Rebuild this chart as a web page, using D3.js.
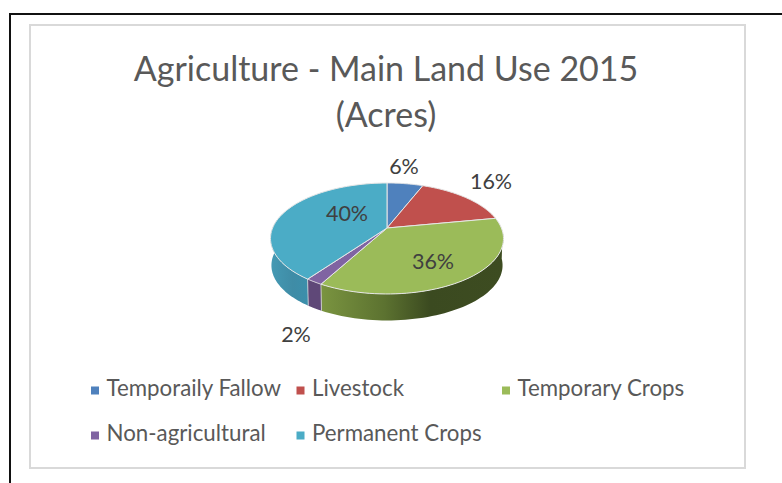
<!DOCTYPE html>
<html><head><meta charset="utf-8">
<script src="https://cdn.jsdelivr.net/npm/d3@7/dist/d3.min.js"></script>
<style>html,body{margin:0;padding:0;background:#fff}svg{display:block}text{font-family:Lato,"Open Sans",sans-serif}</style>
</head><body><svg id="c" width="782" height="483"></svg>
<script>
const categories=["Temporaily Fallow","Livestock","Temporary Crops","Non-agricultural","Permanent Crops"];
const values=[6,16,36,2,40];
const labels=["6%","16%","36%","2%","40%"];
const colors=["#4f81bd","#c0504d","#9bbb59","#8064a2","#4bacc6"];
const titleLines=["Agriculture - Main Land Use 2015","(Acres)"];

const svg=d3.select("#c");
const defs=svg.append("defs");
// frame
svg.append("path").attr("d","M10,483V14H782").attr("fill","none").attr("stroke","#111").attr("stroke-width",2);
svg.append("rect").attr("x",30).attr("y",25).attr("width",715).attr("height",443).attr("fill","#fff").attr("stroke","#d9d9d9").attr("stroke-width",2);
// title
svg.selectAll("text.t").data(titleLines).join("text").attr("class","t").attr("x",386).attr("y",(d,i)=>81+i*46)
  .attr("text-anchor","middle").attr("font-size",34).attr("fill","#595959").text(d=>d);

// perspective projection of a disc
const cx=387,py=228,A=114.4,B=53.5,k=0.189,depth=27;
const proj=(t,dy=0,s=1)=>{const w=1+k*Math.cos(t);return [cx+s*A*Math.sin(t)/w,py+dy-s*B*Math.cos(t)/w];};
const pie=d3.pie().sort(null).value(d=>d)(values);
const line=d3.line();
const arcPts=(a0,a1,dy=0,s=1)=>d3.range(0,61).map(i=>proj(a0+(a1-a0)*i/60,dy,s));

// side gradients
const grads=[
 {id:"g2",stops:[[0,"#7a9440"],[0.35,"#5c7230"],[0.6,"#3b4a20"],[1,"#3d4c21"]],x1:321,x2:503},
 {id:"g3",stops:[[0,"#5f4878"],[1,"#5f4878"]],x1:307,x2:322},
 {id:"g4",stops:[[0,"#459ab4"],[0.6,"#3f8ca6"],[1,"#3b8fab"]],x1:270,x2:308}];
grads.forEach(g=>{const lg=defs.append("linearGradient").attr("id",g.id).attr("gradientUnits","userSpaceOnUse")
  .attr("x1",g.x1).attr("x2",g.x2).attr("y1",0).attr("y2",0);
  g.stops.forEach(s=>lg.append("stop").attr("offset",s[0]).attr("stop-color",s[1]));});

// visible side walls
const wall=(a0,a1)=>{const up=arcPts(a0,a1),lo=arcPts(a0,a1,depth,0.992).reverse();return line(up.concat(lo))+"Z";};
const ext=Math.PI/2+Math.asin(k); // angle of widest point on the front
const sides=[{i:2,a0:ext-0.12,a1:pie[2].endAngle,f:"url(#g2)"},{i:3,a0:pie[3].startAngle,a1:pie[3].endAngle,f:"url(#g3)"},{i:4,a0:pie[4].startAngle,a1:3*Math.PI/2+0.2,f:"url(#g4)"}];
svg.append("g").selectAll("path").data(sides).join("path").attr("d",d=>wall(d.a0,d.a1)).attr("fill",d=>d.f);
svg.append("g").selectAll("path").data(sides).join("path").attr("d",d=>line([proj(d.a0),proj(d.a0,depth,0.992)]))
  .attr("fill","none").attr("stroke",d=>d.i===2?"none":"#d8d8d8").attr("stroke-width",0.8);

// top slices
svg.append("g").selectAll("path").data(pie).join("path")
  .attr("d",d=>line([[cx,py]].concat(arcPts(d.startAngle,d.endAngle)))+"Z")
  .attr("fill",(d,i)=>colors[i]).attr("stroke","#e6e6e6").attr("stroke-width",1).attr("stroke-linejoin","round");

// data labels
const labelPos=[[404,166],[491,181],[433,261],[296,334],[347,213]];
svg.append("g").selectAll("text").data(labels).join("text").attr("x",(d,i)=>labelPos[i][0]).attr("y",(d,i)=>labelPos[i][1])
  .attr("dy","0.36em").attr("text-anchor","middle").attr("font-size",21.5).attr("fill","#404040").text(d=>d);

// legend
const legendPos=[[91,396],[296.5,396],[502,396],[91,441],[296.5,441]];
const lg=svg.append("g").selectAll("g").data(categories).join("g").attr("transform",(d,i)=>`translate(${legendPos[i][0]},${legendPos[i][1]})`);
lg.append("rect").attr("x",0).attr("y",-9.5).attr("width",8).attr("height",8).attr("fill",(d,i)=>colors[i]);
lg.append("text").attr("x",15.5).attr("y",0).attr("font-size",22.3).attr("fill","#595959").text(d=>d);
</script></body></html>
